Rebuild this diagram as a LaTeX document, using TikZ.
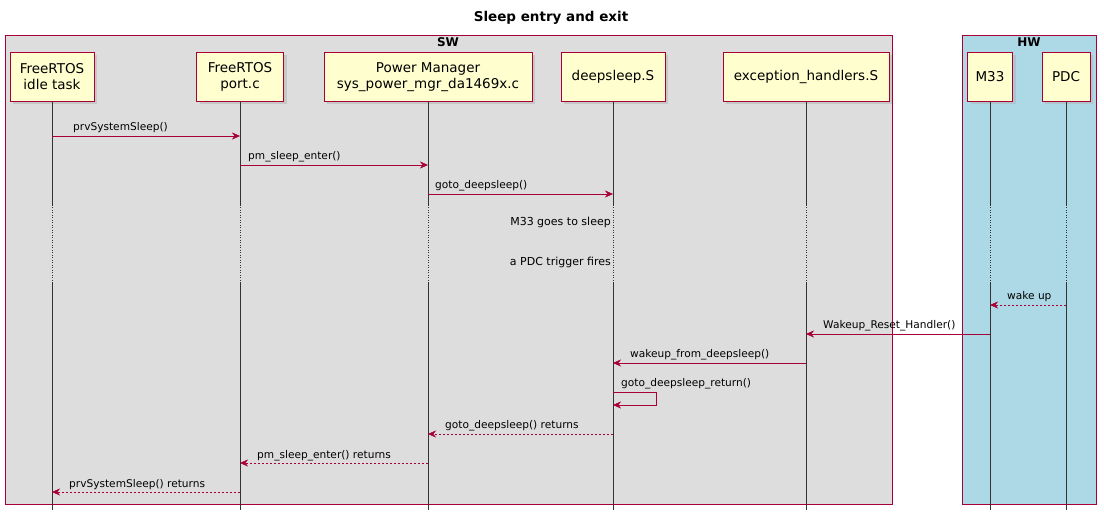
\documentclass[tikz,border=0pt]{standalone}
\usepackage{fontspec}
\setmainfont{DejaVu Sans}
\usetikzlibrary{shadows,arrows.meta}
\definecolor{umlred}{HTML}{A80036}
\definecolor{umlyel}{HTML}{FEFECE}
\definecolor{umlgrey}{HTML}{DDDDDD}
\definecolor{umlblue}{HTML}{ADD8E6}
\begin{document}
\begin{tikzpicture}[x=1pt,y=-1pt,
		part/.style={draw=umlred,fill=umlyel,align=center,minimum height=49pt,inner sep=2pt,
			font=\fontsize{13.5}{16}\selectfont,drop shadow={shadow xshift=3pt,shadow yshift=-3pt,fill=gray!60}},
		group/.style={draw=umlred,fill=#1},
		life/.style={draw=black!80,line width=0.5pt},
		msg/.style={umlred,-{Stealth[length=8pt,width=7pt]}},
		ret/.style={msg,dash pattern=on 2pt off 2pt},
		lbl/.style={font=\fontsize{10.6}{12}\selectfont,anchor=base west,inner sep=0pt},
		note/.style={font=\fontsize{11}{12}\selectfont,anchor=base east,inner sep=0pt}]
		\useasboundingbox (0,0) rectangle (1104,521);

		\node[font=\bfseries\fontsize{13.5}{15}\selectfont] (title) at (551,18) {Sleep entry and exit};
		\draw[group=umlgrey] (5,35) rectangle (892,504);
		\draw[group=umlblue] (962,35) rectangle (1096,504);
		\node[font=\bfseries\fontsize{12}{13}\selectfont] (sw) at (448,42) {SW};
		\node[font=\bfseries\fontsize{12}{13}\selectfont] (hw) at (1029,42) {HW};

		% participants
		\node[part,minimum width=84pt] (idle) at (52,77) {FreeRTOS\\ idle task};
		\node[part,minimum width=87pt] (port) at (240,77) {FreeRTOS\\ port.c};
		\node[part,minimum width=208pt] (pm) at (428,77) {Power Manager\\ sys\_power\_mgr\_da1469x.c};
		\node[part,minimum width=104pt] (ds) at (613,77) {deepsleep.S};
		\node[part,minimum width=166pt] (exc) at (806,77) {exception\_handlers.S};
		\node[part,minimum width=45pt] (m33) at (990,77) {M33};
		\node[part,minimum width=48pt] (pdc) at (1066,77) {PDC};

		% lifelines
		\foreach \p in {idle,port,pm,ds,exc,m33,pdc} {
			\draw[life] (\p.south) -- (\p |- 0,205);
			\draw[life,dotted] (\p |- 0,205) -- (\p |- 0,283);
			\draw[life] (\p |- 0,283) -- (\p |- 0,510);
		}

		% messages
		\draw[msg] (idle |- 0,136) -- (port |- 0,136);
		\node[lbl] (m1) at ([xshift=21pt]idle |- 0,131) {prvSystemSleep()};
		\draw[msg] (port |- 0,165) -- (pm |- 0,165);
		\node[lbl] (m2) at ([xshift=8pt]port |- 0,160) {pm\_sleep\_enter()};
		\draw[msg] (pm |- 0,194) -- (ds |- 0,194);
		\node[lbl] (m3) at ([xshift=7pt]pm |- 0,189) {goto\_deepsleep()};

		\node[note] (n1) at ([xshift=-2pt]ds |- 0,226) {M33 goes to sleep};
		\node[note] (n2) at ([xshift=-2pt]ds |- 0,266) {a PDC trigger fires};

		\draw[ret] (pdc |- 0,305) -- (m33 |- 0,305);
		\node[lbl] (m4) at ([xshift=17pt]m33 |- 0,300) {wake up};
		\draw[msg] (m33 |- 0,334) -- (exc |- 0,334);
		\node[lbl] (m5) at ([xshift=17pt]exc |- 0,329) {Wakeup\_Reset\_Handler()};
		\draw[msg] (exc |- 0,363) -- (ds |- 0,363);
		\node[lbl] (m6) at ([xshift=17pt]ds |- 0,358) {wakeup\_from\_deepsleep()};
		\draw[msg] (ds |- 0,392) -- ([xshift=43pt]ds |- 0,392) -- ([xshift=43pt]ds |- 0,405) -- (ds |- 0,405);
		\node[lbl] (m7) at ([xshift=8pt]ds |- 0,387) {goto\_deepsleep\_return()};
		\draw[ret] (ds |- 0,434) -- (pm |- 0,434);
		\node[lbl] (m8) at ([xshift=17pt]pm |- 0,429) {goto\_deepsleep() returns};
		\draw[ret] (pm |- 0,463) -- (port |- 0,463);
		\node[lbl] (m9) at ([xshift=17pt]port |- 0,458) {pm\_sleep\_enter() returns};
		\draw[ret] (port |- 0,492) -- (idle |- 0,492);
		\node[lbl] (m10) at ([xshift=17pt]idle |- 0,487) {prvSystemSleep() returns};
\end{tikzpicture}
\end{document}
